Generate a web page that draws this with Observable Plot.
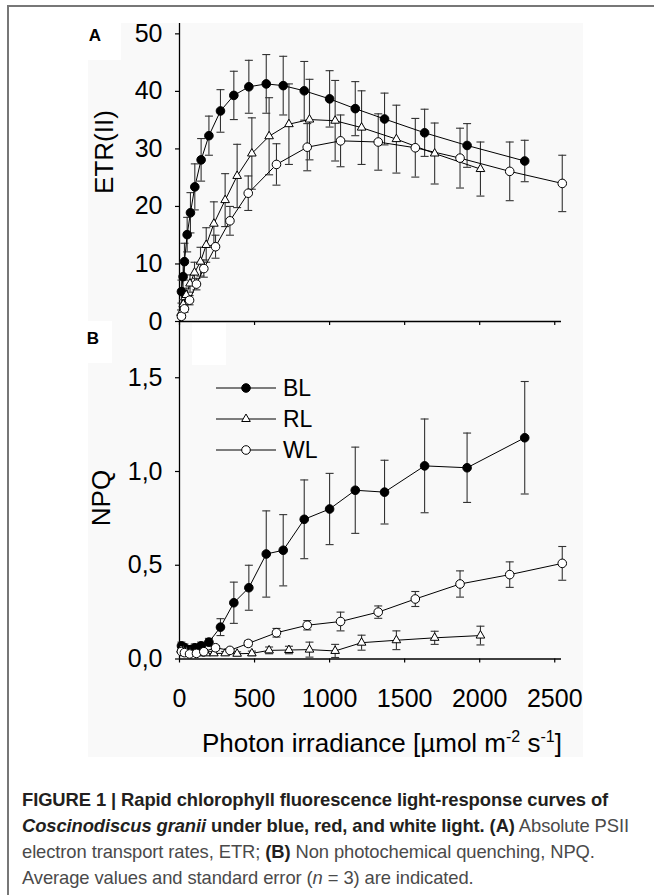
<!DOCTYPE html>
<html>
<head>
<meta charset="utf-8">
<script src="https://cdn.jsdelivr.net/npm/d3@7"></script>
<script src="https://cdn.jsdelivr.net/npm/@observablehq/plot@0.6"></script>
<style>
  html, body { margin: 0; padding: 0; background: #fff; }
  #fig { position: relative; width: 654px; height: 895px; overflow: hidden; font-family: "Liberation Sans", Arial, sans-serif; }
  .abs { position: absolute; }
  #bg { left: 88px; top: 23px; width: 495px; height: 734px; background: #f9f9f9; }
  .patch { background: #fff; }
  #borderL { left: 7px; top: 5px; width: 1.5px; height: 890px; background: #777; }
  #borderT { left: 7px; top: 5px; width: 647px; height: 1.5px; background: #777; }
  #cap { left: 22px; top: 787px; width: 625px; font-size: 18.4px; line-height: 26px; color: #4a4a4a; white-space: nowrap; letter-spacing: -0.1px; }
  #cap b { color: #231f20; }
</style>
</head>
<body>
<div id="fig">
  <div class="abs" id="borderL"></div>
  <div class="abs" id="borderT"></div>
  <div class="abs" id="bg"></div>
  <div class="abs patch" style="left:88px;top:23px;width:33px;height:37px"></div>
  <div class="abs patch" style="left:88px;top:321px;width:24px;height:42px"></div>
  <div class="abs patch" style="left:192px;top:323px;width:34px;height:42px"></div>
  <div class="abs" id="plotA" style="left:0;top:0"></div>
  <div class="abs" id="plotB" style="left:0;top:300px"></div>
  <div class="abs" id="overlay" style="left:0;top:0"></div>
  <div class="abs" id="cap">
    <b>FIGURE 1 | Rapid chlorophyll fluorescence light-response curves of</b><br>
    <b><i>Coscinodiscus granii</i> under blue, red, and white light. (A)</b> Absolute PSII<br>
    electron transport rates, ETR; <b>(B)</b> Non photochemical quenching, NPQ.<br>
    Average values and standard error (<i>n</i> = 3) are indicated.
  </div>
</div>
<script>
// ---------- data ----------
const seriesNames = ["BL", "RL", "WL"];
const xTicks = [0, 500, 1000, 1500, 2000, 2500];
const etrTicks = [0, 10, 20, 30, 40, 50];
const npqTicks = [0, 0.5, 1.0, 1.5];

const BL_x      = [13, 24, 33, 51, 73, 102, 144, 196, 273, 362, 462, 578, 691, 831, 1000, 1171, 1366, 1633, 1916, 2300];
const BL_etr    = [5.2, 7.8, 10.4, 15.1, 18.9, 23.4, 28.1, 32.3, 36.6, 39.3, 40.8, 41.3, 41.0, 40.1, 38.7, 37.0, 35.2, 32.8, 30.6, 27.9];
const BL_etrSe  = [2.0, 2.5, 3.2, 3.0, 3.5, 4.0, 3.7, 3.4, 3.7, 4.2, 4.6, 5.1, 5.1, 5.1, 4.9, 4.7, 4.5, 4.1, 3.8, 3.6];
const BL_npq    = [0.07, 0.06, 0.06, 0.05, 0.05, 0.06, 0.07, 0.09, 0.17, 0.30, 0.38, 0.56, 0.58, 0.745, 0.80, 0.90, 0.89, 1.03, 1.02, 1.18];
const BL_npqSe  = [0.02, 0.02, 0.02, 0.02, 0.02, 0.02, 0.02, 0.02, 0.045, 0.11, 0.12, 0.23, 0.19, 0.21, 0.19, 0.23, 0.17, 0.25, 0.185, 0.30];

const RL_x      = [10, 25, 45, 70, 100, 140, 178, 229, 304, 384, 482, 597, 729, 866, 1037, 1213, 1445, 1700, 2005];
const RL_etr    = [1.5, 3.0, 4.6, 6.6, 8.5, 10.4, 13.3, 17.0, 21.1, 25.3, 29.2, 32.2, 34.3, 35.1, 34.9, 33.7, 31.7, 29.2, 26.5];
const RL_etrSe  = [0.5, 0.8, 1.2, 1.5, 1.8, 2.5, 3.0, 3.8, 4.6, 5.5, 6.2, 6.7, 7.0, 7.0, 7.0, 6.4, 5.9, 5.3, 4.7];
const RL_npq    = [0.05, 0.045, 0.04, 0.035, 0.03, 0.03, 0.03, 0.03, 0.03, 0.028, 0.03, 0.046, 0.048, 0.05, 0.043, 0.087, 0.10, 0.113, 0.125];
const RL_npqSe  = [0.01, 0.01, 0.01, 0.01, 0.01, 0.01, 0.01, 0.01, 0.01, 0.01, 0.012, 0.018, 0.02, 0.04, 0.035, 0.04, 0.05, 0.035, 0.05];

const WL_x      = [13, 33, 67, 113, 162, 240, 336, 458, 646, 851, 1073, 1324, 1571, 1869, 2200, 2550];
const WL_etr    = [0.9, 2.2, 3.7, 6.5, 9.2, 13.0, 17.5, 22.3, 27.3, 30.3, 31.4, 31.2, 30.2, 28.4, 26.1, 24.0];
const WL_etrSe  = [0.4, 0.6, 0.8, 1.0, 1.5, 2.0, 2.5, 3.0, 3.6, 4.1, 4.5, 4.9, 5.1, 5.2, 5.1, 4.9];
const WL_npq    = [0.04, 0.034, 0.027, 0.03, 0.039, 0.06, 0.046, 0.083, 0.14, 0.18, 0.20, 0.25, 0.32, 0.40, 0.45, 0.51];
const WL_npqSe  = [0.01, 0.01, 0.01, 0.01, 0.01, 0.012, 0.012, 0.015, 0.023, 0.025, 0.05, 0.033, 0.04, 0.07, 0.068, 0.09];

// ---------- table built from arrays ----------
const src = {
  BL: [BL_x, BL_etr, BL_etrSe, BL_npq, BL_npqSe],
  RL: [RL_x, RL_etr, RL_etrSe, RL_npq, RL_npqSe],
  WL: [WL_x, WL_etr, WL_etrSe, WL_npq, WL_npqSe]
};
const rows = [];
for (const s of seriesNames) {
  const [xs, e, es, n, ns] = src[s];
  xs.forEach((x, i) => rows.push({series: s, x, etr: e[i], etrSe: es[i], npq: n[i], npqSe: ns[i]}));
}
const style = {
  BL: {symbol: "circle", fill: "black", r: 4.3},
  RL: {symbol: "triangle", fill: "white", r: 3.2},
  WL: {symbol: "circle", fill: "white", r: 4.3}
};
const capSymbol = {
  draw(ctx, size) { const w = Math.sqrt(size / Math.PI); ctx.moveTo(-w, 0); ctx.lineTo(w, 0); }
};
const FONT = "Liberation Sans, Arial, sans-serif";
const xDomain = [0, 2545];
const barColor = "#333";

function seriesMarks(key, seKey) {
  const marks = [];
  for (const s of seriesNames) {
    const d = rows.filter(r => r.series === s);
    marks.push(Plot.ruleX(d, {x: "x", y1: r => r[key] - r[seKey], y2: r => r[key] + r[seKey], stroke: barColor, strokeWidth: 1.1}));
    marks.push(Plot.dot(d, {x: "x", y: r => r[key] + r[seKey], symbol: capSymbol, r: 4, stroke: barColor, strokeWidth: 1.1, fill: "none"}));
    marks.push(Plot.dot(d, {x: "x", y: r => r[key] - r[seKey], symbol: capSymbol, r: 4, stroke: barColor, strokeWidth: 1.1, fill: "none"}));
  }
  for (const s of seriesNames) {
    const d = rows.filter(r => r.series === s);
    marks.push(Plot.line(d, {x: "x", y: key, stroke: "black", strokeWidth: 1}));
  }
  for (const s of seriesNames) {
    const d = rows.filter(r => r.series === s);
    marks.push(Plot.dot(d, {x: "x", y: key, symbol: style[s].symbol, r: style[s].r, fill: style[s].fill, stroke: "black", strokeWidth: 1}));
  }
  return marks;
}

const plotA = Plot.plot({
  width: 654, height: 330,
  marginLeft: 179, marginRight: 93, marginTop: 23, marginBottom: 9,
  style: {background: "transparent", fontFamily: FONT, overflow: "visible", color: "black"},
  x: {domain: xDomain},
  y: {domain: [0, 51.8]},
  marks: [
    Plot.axisX({ticks: xTicks, tickSize: 4, tickFormat: () => "", label: null, strokeWidth: 1.2}),
    Plot.axisY({ticks: etrTicks, tickSize: 4, tickPadding: 13, fontSize: 25, label: null, strokeWidth: 1.2}),
    Plot.ruleY([0], {x1: xDomain[0], x2: xDomain[1], stroke: "black", strokeWidth: 1.3}),
    Plot.ruleX([0], {y1: 0, y2: 51.8, stroke: "black", strokeWidth: 1.3}),
    ...seriesMarks("etr", "etrSe")
  ]
});
document.getElementById("plotA").appendChild(plotA);

const plotB = Plot.plot({
  width: 654, height: 460,
  marginLeft: 179, marginRight: 93, marginTop: 21, marginBottom: 101.5,
  style: {background: "transparent", fontFamily: FONT, overflow: "visible", color: "black"},
  x: {domain: xDomain},
  y: {domain: [0, 1.8]},
  marks: [
    Plot.axisX({ticks: xTicks, tickSize: 4, tickPadding: 26, fontSize: 25, label: null, strokeWidth: 1.2,
      tickFormat: d => d3.format("d")(d)}),
    Plot.axisY({ticks: npqTicks, tickSize: 4, tickPadding: 13, fontSize: 25, label: null, strokeWidth: 1.2,
      tickFormat: d => d3.format(".1f")(d).replace(".", ",")}),
    Plot.ruleY([0], {x1: xDomain[0], x2: xDomain[1], stroke: "black", strokeWidth: 1.3}),
    Plot.ruleX([0], {y1: 0, y2: 1.8, stroke: "black", strokeWidth: 1.3}),
    ...seriesMarks("npq", "npqSe")
  ]
});
document.getElementById("plotB").appendChild(plotB);

// ---------- overlay: panel letters, axis titles, legend ----------
const svg = d3.select("#overlay").append("svg")
  .attr("width", 654).attr("height", 780)
  .style("font-family", FONT).style("overflow", "visible");

svg.append("text").attr("x", 95).attr("y", 41).attr("font-weight", "bold").attr("font-size", 17).attr("text-anchor", "middle").text("A");
svg.append("text").attr("x", 93).attr("y", 344).attr("font-weight", "bold").attr("font-size", 17).attr("text-anchor", "middle").text("B");

svg.append("text").attr("transform", "translate(113,152) rotate(-90)").attr("text-anchor", "middle")
  .attr("font-size", 26).text("ETR(II)");
svg.append("text").attr("transform", "translate(110,498) rotate(-90)").attr("text-anchor", "middle")
  .attr("font-size", 26).text("NPQ");

const xt = svg.append("text").attr("x", 382).attr("y", 752).attr("text-anchor", "middle").attr("font-size", 26);
xt.append("tspan").text("Photon irradiance [µmol m");
xt.append("tspan").attr("dy", -10).attr("font-size", 16).text("-2");
xt.append("tspan").attr("dy", 10).text(" s");
xt.append("tspan").attr("dy", -10).attr("font-size", 16).text("-1");
xt.append("tspan").attr("dy", 10).text("]");

const legendY = {BL: 388, RL: 419, WL: 450};
for (const s of seriesNames) {
  const y = legendY[s];
  svg.append("line").attr("x1", 216).attr("x2", 276).attr("y1", y).attr("y2", y).attr("stroke", "black").attr("stroke-width", 1);
  const sym = d3.symbol(style[s].symbol === "triangle" ? d3.symbolTriangle : d3.symbolCircle, Math.PI * style[s].r * style[s].r);
  svg.append("path").attr("d", sym()).attr("transform", `translate(246,${y})`)
    .attr("fill", style[s].fill).attr("stroke", "black").attr("stroke-width", 1);
  svg.append("text").attr("x", 283).attr("y", y).attr("dy", "0.36em").attr("font-size", 23).text(s);
}
</script>
</body>
</html>
